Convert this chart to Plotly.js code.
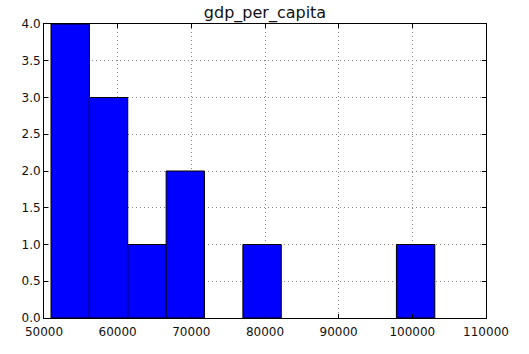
<!DOCTYPE html>
<html>
<head>
<meta charset="utf-8">
<script src="https://cdn.plot.ly/plotly-3.0.1.min.js"></script>
<style>html,body{margin:0;padding:0;background:#fff;}#chart{width:529px;height:354px;}</style>
</head>
<body>
<div id="chart"></div>
<script>
// Histogram bin edges (gdp_per_capita) and counts per bin
const binEdges = [50950, 56160, 61370, 66580, 71790, 77000, 82210, 87420, 92630, 97840, 103050];
const counts = [4, 3, 1, 2, 0, 1, 0, 0, 0, 1];
const xTicks = [50000, 60000, 70000, 80000, 90000, 100000, 110000];
const yTicks = [0.0, 0.5, 1.0, 1.5, 2.0, 2.5, 3.0, 3.5, 4.0];
const titleText = "gdp_per_capita";

const centers = counts.map((_, i) => (binEdges[i] + binEdges[i + 1]) / 2);
const widths = counts.map((_, i) => binEdges[i + 1] - binEdges[i]);

const font = {family: "DejaVu Sans, sans-serif", size: 12, color: "#111"};

const trace = {
  type: "bar",
  x: centers,
  y: counts,
  width: widths,
  marker: {color: "#0000ff", line: {color: "#000", width: counts.map(c => c > 0 ? 1 : 0)}},
  hoverinfo: "skip"
};

const axisCommon = {
  showline: true, linecolor: "#000", linewidth: 1, mirror: "allticks",
  ticks: "inside", ticklen: 4, tickcolor: "#000",
  showgrid: true, gridcolor: "#888", griddash: "1px,3px", gridwidth: 1,
  zeroline: false, tickfont: font, fixedrange: true
};

const layout = {
  width: 529, height: 354,
  margin: {l: 44, r: 43, t: 24, b: 36},
  paper_bgcolor: "#fff", plot_bgcolor: "#fff",
  showlegend: false, bargap: 0,
  title: {text: titleText, font: {family: "DejaVu Sans, sans-serif", size: 16, color: "#111"},
          x: 0.5, xref: "paper", xanchor: "center", y: 1, yref: "paper", yanchor: "bottom", pad: {b: 6}},
  xaxis: Object.assign({}, axisCommon, {range: [50000, 110000], tickvals: xTicks,
          ticktext: xTicks.map(String), ticklabelstandoff: 3}),
  yaxis: Object.assign({}, axisCommon, {range: [0, 4], tickvals: yTicks,
          ticktext: yTicks.map(v => v.toFixed(1))})
};

Plotly.newPlot("chart", [trace], layout, {staticPlot: true, displayModeBar: false});
</script>
</body>
</html>
